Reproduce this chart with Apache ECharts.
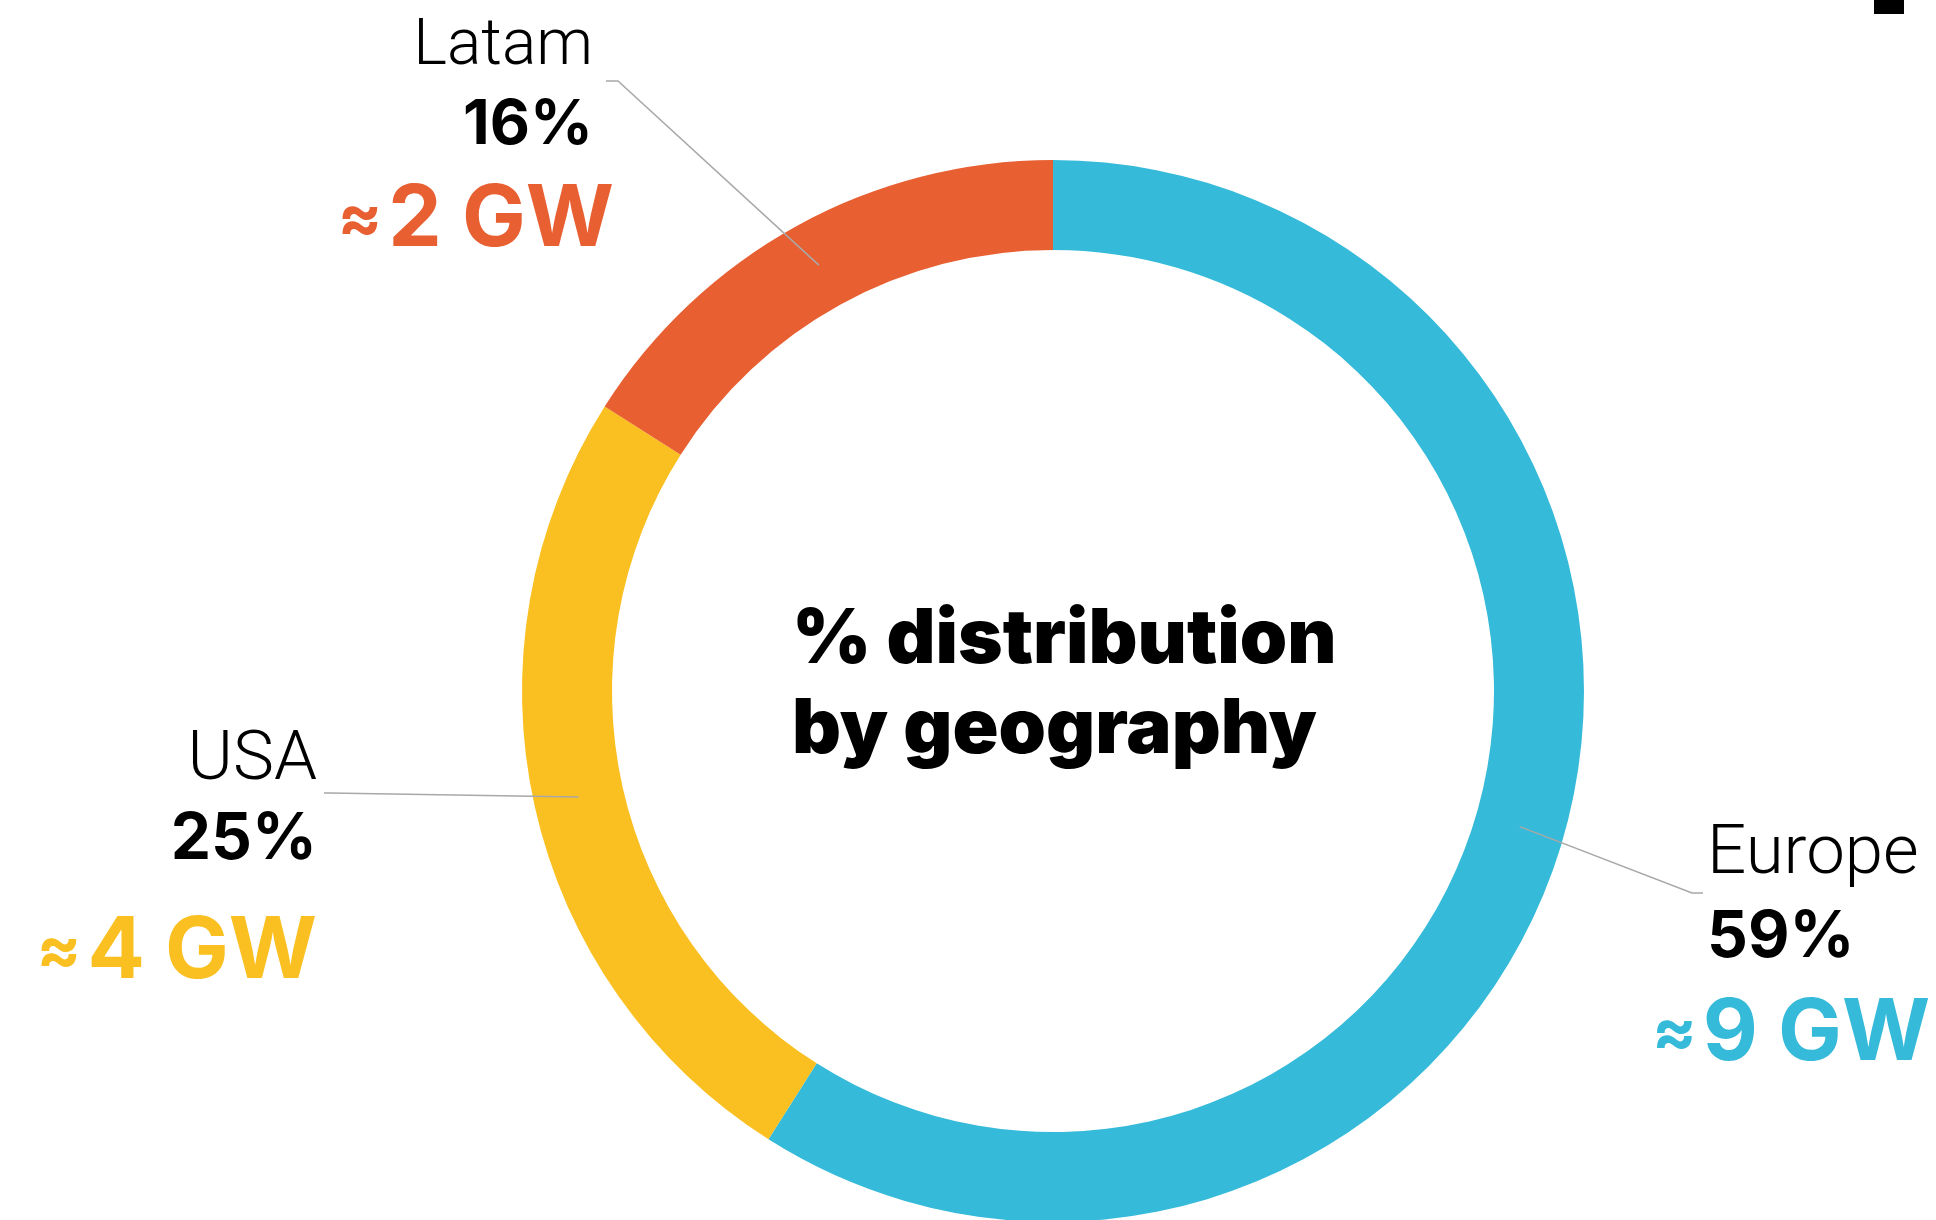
<!DOCTYPE html>
<html>
<head>
<meta charset="utf-8">
<script src="https://cdn.jsdelivr.net/npm/echarts@6/dist/echarts.min.js"></script>
<style>
  html, body { margin: 0; padding: 0; background: #ffffff; }
  #chart { width: 1936px; height: 1220px; }
</style>
</head>
<body>
<div id="chart"></div>
<script>
// Installed capacity split by geography
const regions = ['Europe', 'USA', 'Latam'];
const sharePct = [59, 25, 16];
const capacityGW = [9, 4, 2];
const regionColors = ['#35BAD9', '#FAC022', '#E85F31'];
const centerTitle = '% distribution\nby geography';

const FONT = 'Inter, Roboto, "Noto Sans", sans-serif';
const LIGHT_FONT = 'Roboto, Inter, "Noto Sans", sans-serif';
const CENTER = [1053, 691];
const RING = [441, 531];
const LEADER_R = 486;           // leader lines start mid-ring
const LEADER_COLOR = '#A8A8A8';

// Placement of each label block (x anchor, top, line heights, font sizes)
const placement = [
  { x: 1652, top: 818, align: 'left',  lh: [76, 87, 106], fs: [69, 64, 85], indent: 55, knee: [40, 75],  end: [51, 75] },
  { x: 317,  top: 724, align: 'right', lh: [76, 80, 144], fs: [69, 64, 85], indent: 0,  knee: [12, 69],  end: [7, 69] },
  { x: 614,  top: 13,  align: 'right', lh: [70, 85, 104], fs: [64, 62, 85], indent: 21, knee: [4, 68],   end: [-8, 68] }
];

function labelFor(i) {
  const p = placement[i];
  const pad = p.align === 'left' ? [0, 0, 0, p.indent] : [0, p.indent, 0, 0];
  return {
    formatter: '{name|' + regions[i] + '}\n{pct|' + sharePct[i] + '%}\n{approx|≈}{gw|' + capacityGW[i] + ' GW}',
    align: p.align,
    rich: {
      name:   { fontFamily: LIGHT_FONT, fontWeight: 300, fontSize: p.fs[0], lineHeight: p.lh[0], color: '#000', padding: pad },
      pct:    { fontFamily: FONT, fontWeight: 700, fontSize: p.fs[1], lineHeight: p.lh[1], color: '#000', padding: pad },
      approx: { fontFamily: FONT, fontWeight: 700, fontSize: 66, lineHeight: 60, color: regionColors[i], padding: [0, 6, 0, 0] },
      gw:     { fontFamily: FONT, fontWeight: 700, fontSize: p.fs[2], lineHeight: p.lh[2], color: regionColors[i] }
    }
  };
}

const ringData = regions.map((name, i) => ({
  name: name,
  value: sharePct[i],
  itemStyle: { color: regionColors[i] }
}));

const leaderData = regions.map((name, i) => ({
  name: name,
  value: sharePct[i],
  label: labelFor(i)
}));

const chart = echarts.init(document.getElementById('chart'), null, { renderer: 'canvas' });

chart.setOption({
  animation: false,
  backgroundColor: '#ffffff',
  title: {
    text: centerTitle,
    left: 792,
    top: 595,
    padding: 0,
    textStyle: { fontFamily: FONT, fontWeight: 900, fontSize: 76, lineHeight: 90, color: '#000' }
  },
  graphic: [
    { type: 'rect', shape: { x: 1874, y: 0, width: 30, height: 14 }, style: { fill: '#000' }, silent: true }
  ],
  series: [
    {
      type: 'pie',
      center: CENTER,
      radius: RING,
      startAngle: 90,
      clockwise: true,
      silent: true,
      label: { show: false },
      labelLine: { show: false },
      emphasis: { disabled: true },
      data: ringData,
      z: 1
    },
    {
      // transparent overlay that carries the labels and leader lines
      type: 'pie',
      center: CENTER,
      radius: [0, LEADER_R],
      startAngle: 90,
      clockwise: true,
      silent: true,
      avoidLabelOverlap: false,
      itemStyle: { color: 'rgba(0,0,0,0)' },
      emphasis: { disabled: true },
      label: { show: true, position: 'outside' },
      labelLine: { show: true, length: 20, length2: 10, lineStyle: { color: LEADER_COLOR, width: 1.5 } },
      labelLayout: function (params) {
        const p = placement[params.dataIndex];
        const start = params.labelLinePoints ? params.labelLinePoints[0] : null;
        const out = { x: p.x, y: p.top, align: p.align, verticalAlign: 'top' };
        if (start) {
          out.labelLinePoints = [
            start,
            [p.x + p.knee[0], p.top + p.knee[1]],
            [p.x + p.end[0], p.top + p.end[1]]
          ];
        }
        return out;
      },
      data: leaderData,
      z: 2
    }
  ]
});
</script>
</body>
</html>
